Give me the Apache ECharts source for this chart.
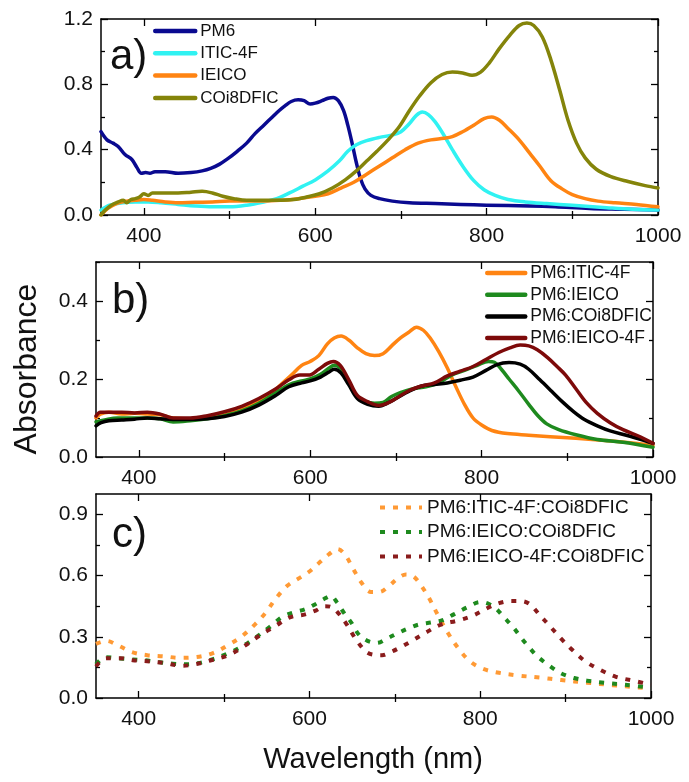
<!DOCTYPE html>
<html>
<head>
<meta charset="utf-8">
<script src="https://cdn.jsdelivr.net/npm/echarts@6/dist/echarts.min.js"></script>
<style>
  html, body { margin: 0; padding: 0; background: #fff; }
  #chart { width: 689px; height: 782px; }
</style>
</head>
<body>
<div id="chart"></div>
<script>
// ---- Absorption spectra: [wavelength (nm), absorbance] ----

// (a) neat films
const pm6 = [[350,0.51],[357,0.46],[364,0.44],[370,0.42],[378,0.37],[386,0.34],[392,0.29],[397,0.255],[402,0.26],[407,0.255],[413,0.265],[425,0.265],[440,0.255],[455,0.26],[468,0.27],[478,0.285],[488,0.31],[498,0.345],[509,0.39],[520,0.44],[530,0.50],[540,0.55],[550,0.60],[558,0.64],[565,0.67],[572,0.695],[580,0.705],[587,0.70],[594,0.68],[600,0.685],[608,0.70],[615,0.715],[621,0.72],[627,0.70],[633,0.64],[638,0.55],[643,0.44],[648,0.32],[653,0.22],[658,0.16],[665,0.12],[675,0.10],[690,0.085],[710,0.075],[740,0.07],[770,0.065],[800,0.06],[850,0.055],[880,0.05],[920,0.04],[960,0.035],[1000,0.03]];
const itic4f = [[350,0.03],[360,0.06],[375,0.075],[390,0.08],[405,0.08],[420,0.075],[440,0.065],[460,0.055],[480,0.05],[500,0.05],[520,0.06],[540,0.08],[555,0.10],[570,0.135],[585,0.175],[600,0.215],[615,0.27],[628,0.33],[638,0.39],[648,0.43],[660,0.455],[675,0.475],[690,0.49],[700,0.51],[710,0.56],[718,0.61],[725,0.63],[732,0.615],[740,0.57],[750,0.49],[760,0.40],[772,0.30],[785,0.21],[797,0.155],[810,0.12],[825,0.095],[845,0.08],[870,0.07],[900,0.06],[940,0.045],[970,0.035],[1000,0.03]];
const ieico = [[350,0.0],[358,0.04],[368,0.07],[380,0.085],[390,0.09],[400,0.095],[410,0.09],[425,0.08],[440,0.075],[460,0.078],[480,0.08],[500,0.085],[520,0.085],[540,0.085],[560,0.09],[580,0.10],[600,0.115],[615,0.13],[630,0.165],[645,0.2],[660,0.25],[675,0.30],[690,0.35],[705,0.40],[720,0.44],[735,0.46],[750,0.47],[760,0.48],[772,0.51],[785,0.55],[797,0.59],[806,0.60],[815,0.58],[825,0.53],[838,0.46],[850,0.38],[862,0.30],[875,0.21],[888,0.16],[900,0.125],[915,0.10],[930,0.085],[950,0.075],[975,0.065],[1000,0.05]];
const coi8dfic = [[350,0.0],[355,0.03],[362,0.06],[370,0.08],[376,0.09],[380,0.075],[385,0.095],[390,0.10],[395,0.11],[400,0.13],[405,0.12],[410,0.135],[420,0.135],[440,0.135],[455,0.14],[468,0.145],[480,0.135],[492,0.115],[505,0.10],[520,0.09],[540,0.09],[560,0.09],[575,0.095],[590,0.11],[605,0.13],[620,0.165],[635,0.215],[648,0.27],[660,0.33],[672,0.39],[685,0.46],[698,0.54],[710,0.64],[722,0.73],[735,0.81],[748,0.86],[760,0.875],[772,0.87],[783,0.855],[793,0.875],[803,0.93],[815,1.02],[827,1.10],[838,1.16],[847,1.175],[855,1.16],[865,1.09],[875,0.95],[885,0.77],[895,0.58],[905,0.44],[915,0.35],[928,0.28],[945,0.235],[965,0.205],[985,0.18],[1000,0.165]];

// (b) binary blends
const blendItic4f = [[350,0.10],[355,0.11],[365,0.115],[380,0.11],[395,0.112],[410,0.11],[425,0.108],[440,0.10],[460,0.098],[480,0.10],[500,0.108],[520,0.122],[540,0.142],[555,0.165],[568,0.19],[578,0.21],[590,0.235],[600,0.245],[610,0.26],[620,0.29],[628,0.305],[636,0.31],[645,0.30],[655,0.28],[665,0.265],[675,0.26],[685,0.265],[695,0.285],[705,0.305],[715,0.32],[724,0.333],[732,0.325],[740,0.305],[750,0.27],[760,0.228],[770,0.18],[780,0.135],[790,0.10],[800,0.082],[812,0.068],[830,0.06],[855,0.056],[880,0.052],[910,0.048],[940,0.043],[970,0.037],[1000,0.03]];
const blendIeico = [[350,0.09],[360,0.095],[375,0.10],[390,0.10],[410,0.10],[425,0.098],[440,0.09],[460,0.093],[480,0.098],[500,0.106],[520,0.118],[540,0.138],[560,0.165],[575,0.185],[590,0.195],[600,0.20],[612,0.212],[622,0.228],[628,0.235],[636,0.225],[645,0.19],[655,0.155],[665,0.142],[675,0.138],[685,0.14],[695,0.155],[705,0.165],[720,0.175],[735,0.18],[750,0.19],[765,0.21],[780,0.222],[795,0.235],[808,0.245],[815,0.243],[823,0.225],[832,0.20],[843,0.17],[855,0.135],[866,0.105],[876,0.085],[890,0.07],[910,0.057],[935,0.045],[965,0.038],[1000,0.025]];
const blendCoi8dfic = [[350,0.08],[356,0.088],[365,0.093],[380,0.095],[395,0.097],[410,0.10],[425,0.098],[440,0.096],[460,0.096],[480,0.098],[500,0.104],[520,0.115],[540,0.133],[560,0.158],[575,0.18],[590,0.19],[600,0.195],[612,0.205],[622,0.218],[628,0.225],[636,0.215],[645,0.185],[655,0.15],[667,0.135],[680,0.13],[690,0.138],[700,0.15],[715,0.168],[730,0.182],[745,0.186],[760,0.19],[775,0.197],[790,0.205],[805,0.222],[818,0.237],[832,0.242],[845,0.238],[855,0.225],[868,0.198],[882,0.168],[895,0.14],[908,0.115],[920,0.096],[935,0.08],[950,0.067],[970,0.055],[990,0.042],[1000,0.035]];
const blendIeico4f = [[350,0.105],[355,0.115],[365,0.115],[380,0.115],[395,0.113],[410,0.115],[425,0.11],[440,0.10],[460,0.10],[480,0.106],[500,0.116],[520,0.13],[540,0.15],[560,0.175],[575,0.198],[588,0.21],[598,0.21],[610,0.225],[620,0.24],[627,0.245],[635,0.235],[645,0.198],[655,0.158],[667,0.142],[680,0.132],[690,0.138],[700,0.15],[715,0.17],[730,0.182],[745,0.19],[760,0.208],[775,0.22],[790,0.232],[805,0.25],[820,0.268],[833,0.28],[845,0.287],[855,0.285],[865,0.275],[877,0.255],[888,0.232],[898,0.21],[910,0.175],[922,0.14],[935,0.112],[950,0.088],[965,0.07],[985,0.052],[1000,0.035]];

// (c) ternary blends
const ternItic4f = [[350,0.265],[362,0.28],[377,0.255],[392,0.225],[410,0.21],[428,0.205],[448,0.197],[466,0.2],[487,0.22],[505,0.26],[520,0.30],[536,0.36],[549,0.42],[561,0.49],[574,0.55],[587,0.585],[600,0.62],[612,0.665],[623,0.705],[633,0.73],[642,0.70],[651,0.635],[661,0.565],[672,0.52],[682,0.52],[692,0.545],[703,0.585],[713,0.605],[722,0.595],[731,0.55],[740,0.49],[750,0.41],[762,0.32],[775,0.24],[788,0.18],[802,0.145],[820,0.125],[845,0.11],[870,0.10],[895,0.088],[925,0.075],[955,0.063],[985,0.052],[1000,0.046]];
const ternIeico = [[350,0.165],[361,0.20],[375,0.195],[390,0.19],[407,0.185],[425,0.175],[440,0.168],[455,0.165],[469,0.17],[487,0.19],[505,0.22],[520,0.25],[538,0.30],[554,0.35],[569,0.40],[582,0.42],[595,0.435],[607,0.46],[617,0.485],[625,0.50],[632,0.47],[640,0.42],[649,0.37],[658,0.31],[668,0.28],[679,0.27],[690,0.29],[702,0.315],[715,0.34],[728,0.36],[742,0.37],[755,0.38],[769,0.41],[785,0.445],[800,0.47],[808,0.465],[818,0.44],[828,0.395],[838,0.35],[849,0.29],[859,0.24],[868,0.20],[882,0.155],[895,0.12],[910,0.098],[925,0.085],[945,0.075],[970,0.065],[1000,0.05]];
const ternIeico4f = [[350,0.155],[362,0.195],[378,0.195],[393,0.185],[410,0.18],[430,0.172],[450,0.158],[466,0.165],[485,0.185],[505,0.21],[522,0.25],[543,0.31],[559,0.35],[577,0.395],[595,0.41],[608,0.43],[618,0.45],[626,0.445],[633,0.42],[643,0.365],[654,0.29],[666,0.228],[675,0.212],[685,0.21],[695,0.225],[705,0.245],[720,0.28],[736,0.32],[754,0.36],[774,0.38],[792,0.405],[808,0.44],[822,0.465],[835,0.475],[848,0.475],[858,0.46],[869,0.41],[882,0.35],[895,0.29],[908,0.235],[923,0.18],[941,0.137],[959,0.104],[979,0.085],[1000,0.065]];

// ---- Axis ticks ----
const waveMajor = [400, 600, 800, 1000];
const waveMinor = [500, 700, 900];
const absMajorA = [0, 0.4, 0.8, 1.2];
const absMinorA = [0.2, 0.6, 1.0];
const absMajorB = [0, 0.2, 0.4];
const absMinorB = [0.1, 0.3, 0.5];
const absMajorC = [0, 0.3, 0.6, 0.9];
const absMinorC = [0.15, 0.45, 0.75];

const FONT = '"Liberation Sans", Arial, Helvetica, sans-serif';
const INK = '#111';

const grids = [
  { left: 101, top: 19, width: 557, height: 196 },
  { left: 96, top: 262, width: 557, height: 195 },
  { left: 96, top: 494, width: 555, height: 204 }
];

const xAxes = [];
const yAxes = [];

// Builds a closed frame for one panel: labelled bottom/left axes and
// mirrored top/right axes, each with major and minor inward ticks.
function addFrame(g, yMax, yMajor, yMinor) {
  const lineStyle = { color: '#000', width: 1.5 };
  const tickStyle = { color: '#000', width: 1.3 };
  const xBase = { gridIndex: g, type: 'value', min: 350, max: 1000, splitLine: { show: false } };
  const yBase = { gridIndex: g, type: 'value', min: 0, max: yMax, splitLine: { show: false } };
  const xMain = xAxes.length;
  const yMain = yAxes.length;
  ['bottom', 'top'].forEach(function (pos) {
    xAxes.push(Object.assign({}, xBase, {
      position: pos,
      axisLine: { show: true, onZero: false, lineStyle: lineStyle },
      axisTick: { show: true, inside: true, length: 7, customValues: waveMajor, lineStyle: tickStyle },
      axisLabel: pos === 'bottom'
        ? { show: true, customValues: waveMajor, fontSize: 21, fontFamily: FONT, color: INK, margin: 11,
            formatter: function (v) { return String(Math.round(v)); } }
        : { show: false }
    }));
    xAxes.push(Object.assign({}, xBase, {
      position: pos,
      axisLine: { show: false },
      axisTick: { show: true, inside: true, length: 4, customValues: waveMinor, lineStyle: tickStyle },
      axisLabel: { show: false }
    }));
  });
  ['left', 'right'].forEach(function (pos) {
    yAxes.push(Object.assign({}, yBase, {
      position: pos,
      axisLine: { show: true, onZero: false, lineStyle: lineStyle },
      axisTick: { show: true, inside: true, length: 7, customValues: yMajor, lineStyle: tickStyle },
      axisLabel: pos === 'left'
        ? { show: true, customValues: yMajor, fontSize: 21, fontFamily: FONT, color: INK, margin: 8,
            formatter: function (v) { return Number(v).toFixed(1); } }
        : { show: false }
    }));
    yAxes.push(Object.assign({}, yBase, {
      position: pos,
      axisLine: { show: false },
      axisTick: { show: true, inside: true, length: 4, customValues: yMinor, lineStyle: tickStyle },
      axisLabel: { show: false }
    }));
  });
  return { x: xMain, y: yMain };
}

const axA = addFrame(0, 1.2, absMajorA, absMinorA);
const axB = addFrame(1, 0.5, absMajorB, absMinorB);
const axC = addFrame(2, 1.0, absMajorC, absMinorC);

function curve(name, data, color, ax, width, dash) {
  return {
    name: name,
    type: 'line',
    data: data,
    xAxisIndex: ax.x,
    yAxisIndex: ax.y,
    showSymbol: false,
    symbol: 'none',
    smooth: 0.35,
    silent: true,
    lineStyle: { color: color, width: width, type: dash || 'solid', cap: dash ? 'butt' : 'round', join: 'round' },
    itemStyle: { color: color }
  };
}

const ORANGE = '#ff8412';
const GREEN = '#1e8a1e';
const DARKRED = '#7d0a0a';

const series = [
  curve('PM6', pm6, '#0a0a90', axA, 3.5),
  curve('ITIC-4F', itic4f, '#30f2f2', axA, 3.5),
  curve('IEICO', ieico, ORANGE, axA, 3.5),
  curve('COi8DFIC', coi8dfic, '#84840a', axA, 3.5),

  curve('PM6:ITIC-4F', blendItic4f, ORANGE, axB, 3.5),
  curve('PM6:IEICO', blendIeico, GREEN, axB, 3.5),
  curve('PM6:COi8DFIC', blendCoi8dfic, '#000000', axB, 3.5),
  curve('PM6:IEICO-4F', blendIeico4f, DARKRED, axB, 3.5),

  curve('PM6:ITIC-4F:COi8DFIC', ternItic4f, '#ff9a35', axC, 4, [5, 8]),
  curve('PM6:IEICO:COi8DFIC', ternIeico, GREEN, axC, 4, [5, 8]),
  curve('PM6:IEICO-4F:COi8DFIC', ternIeico4f, '#8a1c1c', axC, 4, [5, 8])
];

// Legend entries show the line sample only (no marker).
function legend(names, left, top, fontSize, gap, width, lineWidth) {
  return {
    data: names,
    orient: 'vertical',
    left: left,
    top: top,
    itemWidth: width,
    itemHeight: 18,
    itemGap: gap,
    padding: 0,
    selectedMode: false,
    itemStyle: { color: 'rgba(0,0,0,0)', borderColor: 'rgba(0,0,0,0)', borderWidth: 0, opacity: 0 },
    lineStyle: { width: lineWidth },
    textStyle: { fontSize: fontSize, fontFamily: FONT, color: INK, lineHeight: 18 }
  };
}

const chart = echarts.init(document.getElementById('chart'), null, { renderer: 'canvas' });
chart.setOption({
  backgroundColor: '#fff',
  animation: false,
  grid: grids,
  xAxis: xAxes,
  yAxis: yAxes,
  legend: [
    legend(['PM6', 'ITIC-4F', 'IEICO', 'COi8DFIC'], 153, 22, 17, 4.3, 40, 4.5),
    legend(['PM6:ITIC-4F', 'PM6:IEICO', 'PM6:COi8DFIC', 'PM6:IEICO-4F'], 485, 264, 17.5, 3.7, 38, 4.5),
    legend(['PM6:ITIC-4F:COi8DFIC', 'PM6:IEICO:COi8DFIC', 'PM6:IEICO-4F:COi8DFIC'], 378, 498, 19, 5.5, 42, 4)
  ],
  graphic: [
    { type: 'text', left: 110, top: 36, style: { text: 'a)', font: '42px ' + FONT, fill: INK } },
    { type: 'text', left: 112, top: 280, style: { text: 'b)', font: '42px ' + FONT, fill: INK } },
    { type: 'text', left: 112, top: 514, style: { text: 'c)', font: '42px ' + FONT, fill: INK } },
    { type: 'text', x: 27, y: 369, rotation: Math.PI / 2,
      style: { text: 'Absorbance', font: '32px ' + FONT, fill: INK, align: 'center', verticalAlign: 'middle' } },
    { type: 'text', x: 373, y: 760,
      style: { text: 'Wavelength (nm)', font: '29px ' + FONT, fill: INK, align: 'center', verticalAlign: 'middle' } }
  ],
  series: series
});
</script>
</body>
</html>
